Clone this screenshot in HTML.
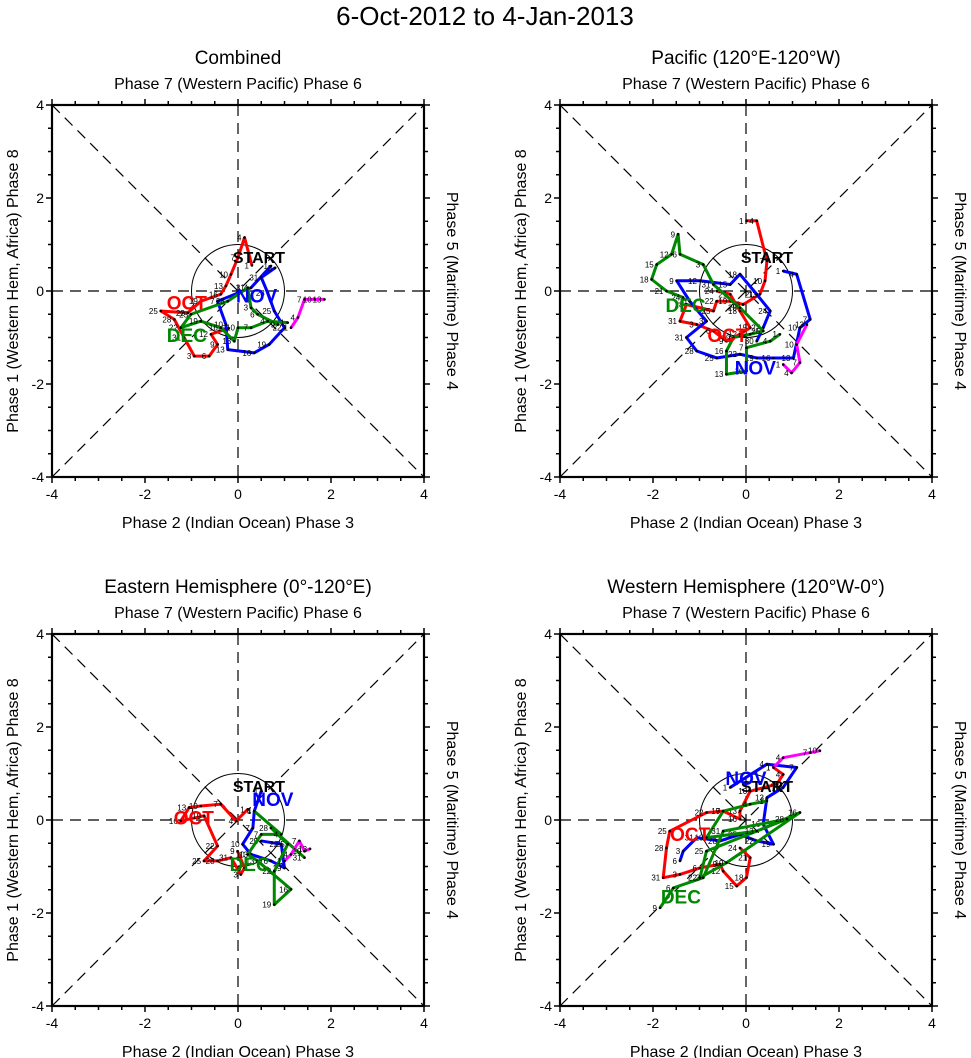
<!DOCTYPE html>
<html><head><meta charset="utf-8"><style>
body{margin:0;background:#fff}
svg{display:block;font-family:"Liberation Sans",sans-serif}
</style></head><body>
<svg id="chart" width="971" height="1058" viewBox="0 0 971 1058" xmlns="http://www.w3.org/2000/svg">
<text x="485" y="25" font-size="26" text-anchor="middle">6-Oct-2012 to 4-Jan-2013</text>
</svg>
<script>
// Panel data (RMM1 = x, RMM2 = y)
const p1RedX=[0.3,0.14,0.0,-0.15,-0.26,-0.37,-0.8,-1.08,-1.66,-1.37,-1.16,-0.94,-0.62,-0.44,-0.58,-0.2];
const p1RedY=[0.55,1.15,0.72,0.36,0.11,-0.07,-0.22,-0.47,-0.43,-0.61,-1.0,-1.4,-1.4,-1.15,-0.93,-0.8];
const p1BlueX=[0.71,0.28,-0.44,-0.26,-0.22,0.35,0.67,1.0,0.78,0.64,0.5,0.8];
const p1BlueY=[0.54,0.07,-0.22,-0.72,-1.26,-1.33,-1.15,-0.79,-0.43,-0.04,0.29,0.5];
const p1GreenX=[1.07,0.64,0.28,0.0,-0.08,-0.37,-0.8,-1.23,-1.01,-0.22,0.21,0.28,0.42,0.86];
const p1GreenY=[-0.68,-0.65,-0.79,-0.79,-1.08,-0.79,-0.65,-0.79,-0.5,-0.22,0.07,-0.36,-0.5,-0.72];
const p1MagX=[1.14,1.29,1.43,1.65,1.86];
const p1MagY=[-0.79,-0.57,-0.18,-0.18,-0.18];

const p2RedX=[0.01,0.23,0.45,0.41,0.3,-0.06,-0.34,-0.63,-0.7,-1.28,-1.42,-1.06,-0.7,-0.42,-0.13,0.09,-0.13,-0.34,-0.63];
const p2RedY=[1.51,1.51,0.65,0.22,-0.07,-0.29,-0.22,-0.22,-0.43,-0.29,-0.65,-0.72,-0.86,-1.08,-0.93,-0.79,-0.43,-0.07,0.0];
const p2BlueX=[0.8,1.09,1.38,1.16,1.02,0.59,0.23,-0.13,-0.63,-1.06,-1.28,-0.85,-1.21,-1.49,-0.99,-0.34,-0.13,0.23,0.52,0.37,0.23];
const p2BlueY=[0.43,0.36,-0.61,-0.79,-1.44,-1.44,-1.44,-1.36,-1.44,-1.29,-1.0,-0.65,-0.22,0.22,0.22,0.14,0.36,-0.07,-0.43,-0.79,-1.08];
const p2GreenX=[0.73,0.52,0.01,0.01,-0.42,-0.42,-0.27,0.09,0.37,-0.13,-0.7,-0.92,-1.42,-1.46,-1.6,-1.92,-2.03,-1.71,-1.35];
const p2GreenY=[-0.93,-1.08,-1.22,-1.72,-1.79,-1.29,-1.0,-0.93,-0.86,-0.36,0.14,0.57,0.79,1.22,0.79,0.57,0.25,0.0,-0.14];
const p2MagX=[0.8,0.98,1.16,1.09,1.31];
const p2MagY=[-1.58,-1.76,-1.54,-1.15,-0.72];

const p3RedX=[0.21,-0.04,-0.37,-0.8,-1.05,-1.23,-0.73,-0.44,-0.73,-0.44,-0.15,0.06,0.14,-0.01];
const p3RedY=[0.23,-0.02,0.34,0.3,0.27,-0.02,0.09,-0.56,-0.88,-0.88,-0.81,-1.17,-1.03,-0.67];
const p3BlueX=[0.5,0.35,0.32,0.1,0.28,0.71,1.0,0.93,0.5];
const p3BlueY=[0.62,0.19,-0.17,-0.52,-0.74,-0.88,-1.03,-0.52,-0.45];
const p3GreenX=[0.35,0.93,0.5,0.21,0.42,1.14,0.78,0.78,1.07,0.71,1.43];
const p3GreenY=[0.19,-0.31,-0.31,-0.74,-0.88,-1.49,-1.82,-1.1,-0.52,-0.17,-0.81];
const p3MagX=[1.0,1.14,1.32,1.43,1.55];
const p3MagY=[-0.88,-0.74,-0.45,-0.67,-0.62];

const p4RedX=[0.59,0.8,0.66,0.09,-0.13,-0.13,-0.49,-0.85,-1.64,-1.71,-1.78,-1.42,-0.99,-0.56,-0.49,-0.2,0.01,0.09,-0.13];
const p4RedY=[1.13,0.98,0.77,0.62,0.19,0.02,0.19,0.16,-0.24,-0.6,-1.24,-1.17,-1.03,-0.95,-1.1,-1.42,-1.24,-0.81,-0.6];
const p4BlueX=[-0.34,0.45,1.09,0.8,0.45,0.37,0.59,0.23,-0.13,-0.56,-1.06,-1.35,-1.42];
const p4BlueY=[0.7,1.2,1.13,0.7,0.48,-0.09,-0.52,-0.45,-0.31,-0.45,-0.38,-0.67,-0.88];
const p4GreenX=[0.45,0.09,-0.49,-0.85,0.23,1.16,-0.42,-0.99,-0.85,0.88,-0.49,-0.92,-1.56,-1.85];
const p4GreenY=[0.41,0.34,0.19,-0.38,-0.24,0.16,-0.92,-1.24,-0.67,0.02,-0.24,-1.24,-1.46,-1.89];
const p4MagX=[0.59,0.8,1.38,1.59];
const p4MagY=[1.13,1.34,1.45,1.49];

const tickVals=[-4,-2,0,2,4];
const tickLabels=["-4","-2","0","2","4"];

const NS="http://www.w3.org/2000/svg";
const svg=document.getElementById('chart');
function mk(tag,attrs,parent){const e=document.createElementNS(NS,tag);for(const k in attrs)e.setAttribute(k,attrs[k]);(parent||svg).appendChild(e);return e;}

const panels=[
 {name:'combined',title:'Combined',L:52,T:105,series:[[p1RedX,p1RedY,'#f00','red'],[p1BlueX,p1BlueY,'#00f','blue'],[p1GreenX,p1GreenY,'#080','green'],[p1MagX,p1MagY,'#f0f','magenta']],
  months:[['OCT',-1.1,-0.25,'#f00'],['NOV',0.4,-0.1,'#00f'],['DEC',-1.1,-0.95,'#080']]},
 {name:'pacific',title:'Pacific (120°E-120°W)',L:560,T:105,series:[[p2RedX,p2RedY,'#f00','red'],[p2BlueX,p2BlueY,'#00f','blue'],[p2GreenX,p2GreenY,'#080','green'],[p2MagX,p2MagY,'#f0f','magenta']],
  months:[['OCT',-0.4,-0.95,'#f00'],['NOV',0.2,-1.65,'#00f'],['DEC',-1.3,-0.3,'#080']]},
 {name:'eastern-hemisphere',title:'Eastern Hemisphere (0°-120°E)',L:52,T:634,series:[[p3RedX,p3RedY,'#f00','red'],[p3BlueX,p3BlueY,'#00f','blue'],[p3GreenX,p3GreenY,'#080','green'],[p3MagX,p3MagY,'#f0f','magenta']],
  months:[['OCT',-0.95,0.05,'#f00'],['NOV',0.75,0.45,'#00f'],['DEC',0.25,-0.95,'#080']]},
 {name:'western-hemisphere',title:'Western Hemisphere (120°W-0°)',L:560,T:634,series:[[p4RedX,p4RedY,'#f00','red'],[p4BlueX,p4BlueY,'#00f','blue'],[p4GreenX,p4GreenY,'#080','green'],[p4MagX,p4MagY,'#f0f','magenta']],
  months:[['OCT',-1.2,-0.3,'#f00'],['NOV',0.0,0.9,'#00f'],['DEC',-1.4,-1.65,'#080']]}
];

const W=372,H=372,U=W/8;
panels.forEach(p=>{
 const g=mk('g',{});
 
 
 const cx=p.L+W/2, cy=p.T+H/2;
 const sx=v=>cx+v*U, sy=v=>cy-v*U;
 const t=mk('text',{x:cx,y:p.T-41,'font-size':19,'text-anchor':'middle'},g);t.textContent=p.title;
 
 const tt=mk('text',{x:cx,y:p.T-16,'font-size':16,'text-anchor':'middle'},g);tt.textContent='Phase 7 (Western Pacific) Phase 6';
 
 const bt=mk('text',{x:cx,y:p.T+H+51,'font-size':16,'text-anchor':'middle'},g);bt.textContent='Phase 2 (Indian Ocean) Phase 3';
 
 const lt=mk('text',{x:0,y:0,'font-size':16,'text-anchor':'middle',transform:`translate(${p.L-34},${cy}) rotate(-90)`},g);lt.textContent='Phase 1 (Western Hem, Africa) Phase 8';
 
 const rt=mk('text',{x:0,y:0,'font-size':16,'text-anchor':'middle',transform:`translate(${p.L+W+23},${cy}) rotate(90)`},g);rt.textContent='Phase 5 (Maritime) Phase 4';
 
 const dash={stroke:'#000','stroke-width':1.2,'stroke-dasharray':'11,7',fill:'none'};
 [[p.L,p.T,p.L+W,p.T+H],[p.L,p.T+H,p.L+W,p.T],[p.L,cy,p.L+W,cy],[cx,p.T,cx,p.T+H]].forEach(a=>{
  const l=mk('line',Object.assign({x1:a[0],y1:a[1],x2:a[2],y2:a[3]},dash),g);
  });
 const c=mk('circle',{cx:cx,cy:cy,r:U,fill:'none',stroke:'#000','stroke-width':1},g);
 
 for(let v=-4;v<=4.001;v+=0.5){
  const maj=Math.abs(v%2)<0.01, len=maj?6:4;
  mk('line',{x1:sx(v),y1:p.T+H,x2:sx(v),y2:p.T+H+len,stroke:'#000','stroke-width':1.5},g);
  mk('line',{x1:sx(v),y1:p.T,x2:sx(v),y2:p.T-len,stroke:'#000','stroke-width':1.5},g);
  mk('line',{x1:p.L,y1:sy(v),x2:p.L-len,y2:sy(v),stroke:'#000','stroke-width':1.5},g);
  mk('line',{x1:p.L+W,y1:sy(v),x2:p.L+W+len,y2:sy(v),stroke:'#000','stroke-width':1.5},g);
 }
 tickVals.forEach((v,i)=>{
  const a=mk('text',{x:sx(v),y:p.T+H+22,'font-size':14,'text-anchor':'middle'},g);a.textContent=tickLabels[i];
  
  const b=mk('text',{x:p.L-8,y:sy(v)+5,'font-size':14,'text-anchor':'end'},g);b.textContent=tickLabels[i];
  
 });
 const box=mk('rect',{x:p.L,y:p.T,width:W,height:H,fill:'none',stroke:'#000','stroke-width':2.2},g);
 
 p.series.forEach(s=>{
  const [xs,ys,col,nm]=s;
  const pts=xs.map((x,i)=>sx(x)+','+sy(ys[i])).join(' ');
  const pl=mk('polyline',{points:pts,fill:'none',stroke:col,'stroke-width':3,'stroke-linejoin':'round'},g);
  
  
  xs.forEach((x,i)=>{
   const d=mk('circle',{cx:sx(x),cy:sy(ys[i]),r:1.3,fill:'#000'},g);
   
   
   const lb=mk('text',{x:sx(x)-3,y:sy(ys[i])+3,'font-size':8,'text-anchor':'end'},g);
   lb.textContent=String((i*3)%31+1);
   
   
  });
 });
 const st=mk('text',{x:sx(0.45),y:sy(0.6),'font-size':16,'font-weight':'bold','text-anchor':'middle'},g);st.textContent='START';
 
 p.months.forEach(m=>{
  const e=mk('text',{x:sx(m[1]),y:sy(m[2])+7,'font-size':19,'font-weight':'bold',fill:m[3],'text-anchor':'middle'},g);e.textContent=m[0];
  
 });
});
</script>
</body></html>
